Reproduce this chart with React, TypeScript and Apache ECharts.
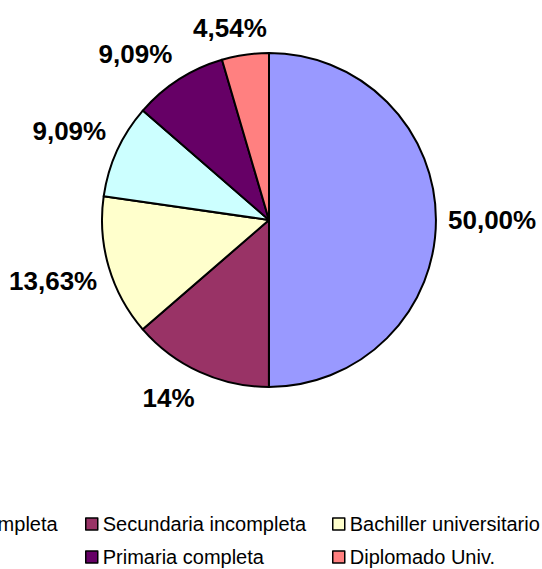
import React, { useEffect, useRef } from "react";
import * as echarts from "echarts";

const categories = [
  "Secundaria completa",
  "Secundaria incompleta",
  "Bachiller universitario",
  "Técnico",
  "Primaria completa",
  "Diplomado Univ.",
];
const values = [50, 13.63, 13.63, 9.09, 9.09, 4.54];
const valueLabels = ["50,00%", "14%", "13,63%", "9,09%", "9,09%", "4,54%"];
const colors = ["#9999FF", "#993366", "#FFFFCC", "#CCFFFF", "#660066", "#FF8080"];
// legend entries visible in the picture (the 4th one is clipped away at the left edge)
const legendShown = [true, true, true, false, true, true];

const W = 542;
const H = 569;
const CX = 269;
const CY = 220;
const R = 167;
const LABEL_FONT = 26;
const LABEL_GAP = 12;
const LABEL_BOX_H = 30;
const FONT = "Arial, 'Liberation Sans', Helvetica, sans-serif";

// legend grid: column x (icon left) and row top
const legendCols = [-148, 85, 332];
const legendRows = [514, 547];

const clamp = (v: number) => Math.max(-1, Math.min(1, v));

export default function App() {
  const ref = useRef<HTMLDivElement>(null);
  useEffect(() => {
    document.body.style.margin = "0";
    if (!ref.current) return;
    const chart = echarts.init(ref.current, null, { renderer: "svg" });
    const total = values.reduce((a, b) => a + b, 0);
    const cum: number[] = [];
    values.reduce((acc, v, i) => {
      cum[i] = acc;
      return acc + v;
    }, 0);

    const legends = categories
      .map((name, i) => ({
        show: true,
        data: [name],
        left: legendCols[i % 3],
        top: legendRows[Math.floor(i / 3)],
        padding: 0,
        icon: "rect",
        itemWidth: 12,
        itemHeight: 12,
        itemStyle: { borderColor: "#000", borderWidth: 1.5 },
        textStyle: { fontFamily: FONT, fontSize: 20, color: "#000" },
        selectedMode: false,
      }))
      .filter((_, i) => legendShown[i]);

    chart.setOption({
      animation: false,
      backgroundColor: "#fff",
      legend: legends,
      series: [
        {
          type: "pie",
          center: [CX, CY],
          radius: R,
          startAngle: 90,
          clockwise: true,
          avoidLabelOverlap: false,
          itemStyle: { borderColor: "#000", borderWidth: 2 },
          emphasis: { disabled: true },
          label: {
            show: true,
            position: "outside",
            formatter: (p: any) => valueLabels[p.dataIndex],
            fontFamily: FONT,
            fontSize: LABEL_FONT,
            fontWeight: "bold",
            color: "#000",
          },
          labelLine: { show: false },
          labelLayout: (params: any) => {
            const i = params.dataIndex;
            const frac = (cum[i] + values[i] / 2) / total;
            const theta = ((90 - 360 * frac) * Math.PI) / 180;
            const ux = Math.cos(theta);
            const uy = -Math.sin(theta);
            const w = params.labelRect.width;
            const px = CX + (R + LABEL_GAP) * ux;
            const py = CY + (R + LABEL_GAP) * uy;
            return {
              x: px + (w / 2) * clamp(2.6 * ux),
              y: py + (LABEL_BOX_H / 2) * clamp(2.6 * uy),
              align: "center",
              verticalAlign: "middle",
            };
          },
          data: categories.map((name, i) => ({
            name,
            value: values[i],
            itemStyle: { color: colors[i] },
          })),
        },
      ],
    });
    return () => chart.dispose();
  }, []);
  return <div ref={ref} style={{ width: W, height: H }} />;
}
